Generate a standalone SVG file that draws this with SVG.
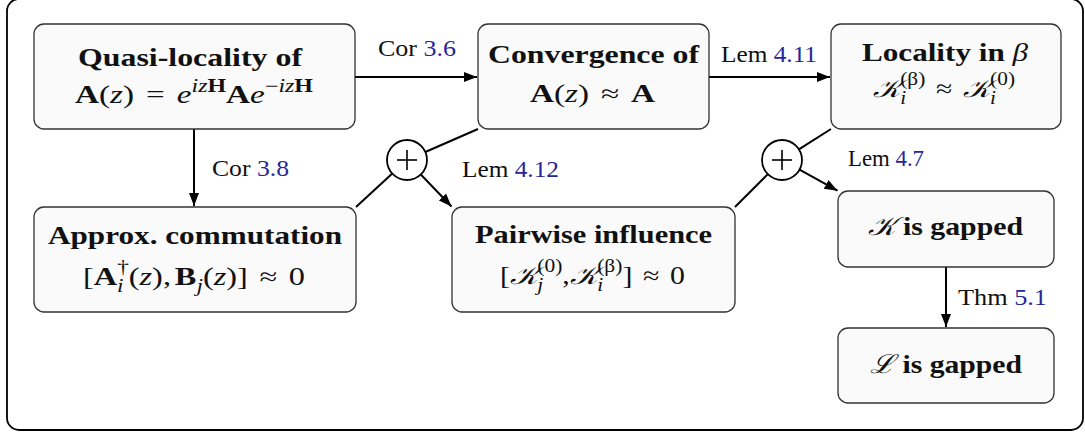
<svg xmlns="http://www.w3.org/2000/svg" width="1085" height="433" viewBox="0 0 1085 433">
<style>
.frame{fill:#fff;stroke:#000;stroke-width:1.8}
.box{fill:#fafafa;stroke:#333;stroke-width:1.3}
.t{font-family:"Liberation Serif",serif;font-weight:bold;font-size:26px;fill:#111}
.m{font-family:"Liberation Serif",serif;font-size:25px;fill:#111}
.b{font-weight:bold}
.i{font-style:italic}
.s{font-size:18px}
.k{font-family:"DejaVu Serif","Liberation Serif",serif;font-style:italic;font-weight:normal}
.lab{font-family:"Liberation Serif",serif;font-size:24px;fill:#111}
.ref{fill:#26269a}
.c{stroke:#000;stroke-width:2;fill:none}
.plus{fill:#fff;stroke:#000;stroke-width:1.8}
.pl{stroke:#000;stroke-width:1.6}
</style>
<defs>
<marker id="ah" markerUnits="userSpaceOnUse" markerWidth="14" markerHeight="12" refX="13" refY="5" orient="auto">
<path d="M0,0 L13,5 L0,10 z" fill="#000"/>
</marker>
</defs>
<rect class="frame" x="7" y="-1" width="1076" height="431" rx="12"/>

<g id="connectors">
<line class="c" x1="355" y1="77" x2="477" y2="77" marker-end="url(#ah)"/>
<line class="c" x1="194" y1="129" x2="194" y2="206" marker-end="url(#ah)"/>
<line class="c" x1="709" y1="77" x2="830" y2="77" marker-end="url(#ah)"/>
<line class="c" x1="478" y1="129" x2="425.3" y2="152"/>
<line class="c" x1="392.3" y1="173.5" x2="356" y2="207"/>
<line class="c" x1="420.8" y1="174.5" x2="451.5" y2="206.5" marker-end="url(#ah)"/>
<line class="c" x1="831" y1="129" x2="798.9" y2="149.3"/>
<line class="c" x1="767.9" y1="174.1" x2="735" y2="207"/>
<line class="c" x1="799.5" y1="169.7" x2="837.5" y2="190.7" marker-end="url(#ah)"/>
<line class="c" x1="946" y1="267" x2="946" y2="327" marker-end="url(#ah)"/>
<text class="lab" x="378" y="56" textLength="78" lengthAdjust="spacingAndGlyphs">Cor <tspan class="ref">3.6</tspan></text>
<text class="lab" x="721" y="62" textLength="96" lengthAdjust="spacingAndGlyphs">Lem <tspan class="ref">4.11</tspan></text>
<text class="lab" x="212" y="176" textLength="77" lengthAdjust="spacingAndGlyphs">Cor <tspan class="ref">3.8</tspan></text>
<text class="lab" x="462" y="177" textLength="97" lengthAdjust="spacingAndGlyphs">Lem <tspan class="ref">4.12</tspan></text>
<text class="lab" x="848" y="166" textLength="76" lengthAdjust="spacingAndGlyphs">Lem <tspan class="ref">4.7</tspan></text>
<text class="lab" x="958" y="305" textLength="89" lengthAdjust="spacingAndGlyphs">Thm <tspan class="ref">5.1</tspan></text>
</g>

<g id="plus1">
<circle class="plus" cx="407" cy="160" r="20"/>
<line class="pl" x1="397" y1="160" x2="417" y2="160"/>
<line class="pl" x1="407" y1="150" x2="407" y2="170"/>
</g>
<g id="plus2">
<circle class="plus" cx="782" cy="160" r="20"/>
<line class="pl" x1="772" y1="160" x2="792" y2="160"/>
<line class="pl" x1="782" y1="150" x2="782" y2="170"/>
</g>

<g id="quasi">
<rect class="box" x="34" y="24" width="321" height="105" rx="10"/>
<text class="t" x="190" y="66" text-anchor="middle" textLength="224" lengthAdjust="spacingAndGlyphs">Quasi-locality of</text>
<text class="m" x="194" y="103" text-anchor="middle" textLength="238" lengthAdjust="spacingAndGlyphs"><tspan class="b">A</tspan>(<tspan class="i">z</tspan>)<tspan dx="9">=</tspan><tspan class="i" dx="9">e</tspan><tspan class="s" dy="-11"><tspan class="i">iz</tspan><tspan class="b">H</tspan></tspan><tspan class="b" dy="11">A</tspan><tspan class="i">e</tspan><tspan class="s" dy="-11">−<tspan class="i">iz</tspan><tspan class="b">H</tspan></tspan></text>
</g>

<g id="convergence">
<rect class="box" x="478" y="24" width="231" height="105" rx="10"/>
<text class="t" x="593.5" y="63" text-anchor="middle" textLength="211" lengthAdjust="spacingAndGlyphs">Convergence of</text>
<text class="m" x="592.5" y="102" text-anchor="middle" textLength="125" lengthAdjust="spacingAndGlyphs"><tspan class="b">A</tspan>(<tspan class="i">z</tspan>)<tspan dx="9">≈</tspan><tspan class="b" dx="9">A</tspan></text>
</g>

<g id="locality">
<rect class="box" x="831" y="24" width="230" height="105" rx="10"/>
<text class="t" x="945" y="61" text-anchor="middle" textLength="166" lengthAdjust="spacingAndGlyphs">Locality in <tspan class="i" font-weight="normal">β</tspan></text>
<text class="m" x="944" y="97" text-anchor="middle" textLength="142" lengthAdjust="spacingAndGlyphs"><tspan class="k">𝒦</tspan><tspan class="s i" dy="7">i</tspan><tspan class="s" dx="-5" dy="-19">(β)</tspan><tspan dx="9" dy="12">≈</tspan><tspan class="k" dx="9">𝒦</tspan><tspan class="s i" dy="7">i</tspan><tspan class="s" dx="-5" dy="-19">(0)</tspan></text>
</g>

<g id="approx">
<rect class="box" x="34" y="207" width="322" height="105" rx="10"/>
<text class="t" x="195" y="244" text-anchor="middle" textLength="294" lengthAdjust="spacingAndGlyphs">Approx. commutation</text>
<text class="m" x="194" y="285" text-anchor="middle" textLength="222" lengthAdjust="spacingAndGlyphs">[<tspan class="b">A</tspan><tspan class="s i" dy="7">i</tspan><tspan class="s" dx="-5" dy="-19">†</tspan><tspan dy="12">(</tspan><tspan class="i">z</tspan>),<tspan class="b" dx="3">B</tspan><tspan class="s i" dy="7">j</tspan><tspan dy="-7">(</tspan><tspan class="i">z</tspan>)]<tspan dx="9">≈</tspan><tspan dx="9">0</tspan></text>
</g>

<g id="pairwise">
<rect class="box" x="452" y="207" width="283" height="105" rx="10"/>
<text class="t" x="593.5" y="243" text-anchor="middle" textLength="237" lengthAdjust="spacingAndGlyphs">Pairwise influence</text>
<text class="m" x="592.5" y="284" text-anchor="middle" textLength="185" lengthAdjust="spacingAndGlyphs">[<tspan class="k">𝒦</tspan><tspan class="s i" dy="7">j</tspan><tspan class="s" dx="-5" dy="-19">(0)</tspan><tspan dy="12">,</tspan><tspan class="k">𝒦</tspan><tspan class="s i" dy="7">i</tspan><tspan class="s" dx="-5" dy="-19">(β)</tspan><tspan dy="12">]</tspan><tspan dx="9">≈</tspan><tspan dx="9">0</tspan></text>
</g>

<g id="kgapped">
<rect class="box" x="838" y="191" width="216" height="76" rx="10"/>
<text class="t" x="945.5" y="235" text-anchor="middle" textLength="155" lengthAdjust="spacingAndGlyphs"><tspan class="k">𝒦</tspan> is gapped</text>
</g>

<g id="lgapped">
<rect class="box" x="838" y="328" width="216" height="75" rx="10"/>
<text class="t" x="946" y="373" text-anchor="middle" textLength="152" lengthAdjust="spacingAndGlyphs"><tspan class="k">ℒ</tspan> is gapped</text>
</g>
</svg>
